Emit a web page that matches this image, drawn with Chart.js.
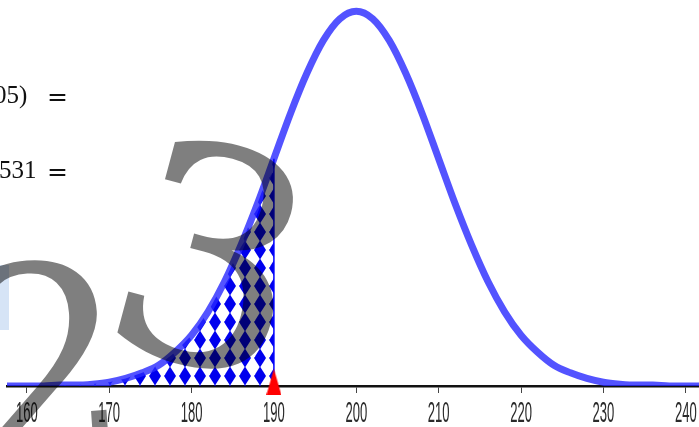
<!DOCTYPE html>
<html>
<head>
<meta charset="utf-8">
<script src="https://cdn.jsdelivr.net/npm/chart.js@4"></script>
<style>
  html, body { margin: 0; padding: 0; background: #fff; overflow: hidden; }
  #wrap { position: relative; width: 699px; height: 427px; overflow: hidden; }
  #chart { position: absolute; left: 0; top: 0; }
  .eq { position: absolute; font-family: "Liberation Serif", serif; font-size: 25px; line-height: 25px; color: #111; white-space: nowrap; }
  .eqs { position: absolute; font-family: "DejaVu Serif", serif; font-size: 25px; line-height: 25px; color: #111; }
  .mark { position: absolute; font-family: "DejaVu Serif", serif; line-height: 300px; color: rgba(0,0,0,0.5); }
  #patch { position: absolute; left: 0; top: 265px; width: 9px; height: 65px; background: #d6e4f6; }
</style>
</head>
<body>
<div id="wrap">
  <canvas id="chart" width="727" height="427"></canvas>
  <div class="eq" style="left:-6px; top:82px;">05)</div>
  <div class="eqs" style="left:47px; top:84px;">=</div>
  <div class="eq" style="left:-1px; top:157px;">531</div>
  <div class="eqs" style="left:47px; top:159px;">=</div>
  <div id="patch"></div>
  <div class="mark" style="left:116px; top:112px; font-size:300px; transform: rotate(15deg);">3</div>
  <div class="mark" style="left:-42px; top:217px; font-size:270px; transform: rotate(-4deg);">2</div>
</div>
<script>
// curve (x, density)
const curveX = [156, 158, 160, 162, 164, 166, 168, 170, 172, 174, 176, 178, 180, 182, 184, 186, 188, 190,
  192, 194, 196, 198, 200, 202, 204, 206, 208, 210, 212, 214, 216, 218, 220, 222, 224, 226, 228, 230,
  232, 234, 236, 238, 240, 242, 244, 246];
const curveY = [0.0000, 0.0000, 0.0000, 0.0000, 0.0001, 0.0001, 0.0002, 0.0004, 0.0008, 0.0014, 0.0022, 0.0036, 0.0054, 0.0079, 0.0111, 0.0150, 0.0194, 0.0242,
  0.0290, 0.0333, 0.0368, 0.0391, 0.0399, 0.0391, 0.0368, 0.0333, 0.0290, 0.0242, 0.0194, 0.0150, 0.0111, 0.0079, 0.0054, 0.0036, 0.0022, 0.0014, 0.0008, 0.0004,
  0.0002, 0.0001, 0.0001, 0.0000, 0.0000, 0.0000, 0.0000, 0.0000];
const cutoff = 190;
const cutoffHeight = 0.0242;
const tickLabels = [160, 170, 180, 190, 200, 210, 220, 230, 240];

const curve = curveX.map((x, i) => ({ x: x, y: curveY[i] }));
const shaded = curve.filter((p) => p.x <= cutoff);

const canvas = document.getElementById("chart");
const ctx = canvas.getContext("2d");

// harlequin pattern: blue diamonds in columns, white diamonds between
function diamondPattern() {
  const t = document.createElement("canvas");
  t.width = 15;
  t.height = 18;
  const c = t.getContext("2d");
  c.fillStyle = "#0000ee";
  const cx = 5, cy = 16;
  [-15, 0, 15].forEach((dx) => {
    [-18, 0, 18].forEach((dy) => {
      const x = cx + dx, y = cy + dy;
      c.beginPath();
      c.moveTo(x, y - 9.6);
      c.lineTo(x + 6, y);
      c.lineTo(x, y + 9.6);
      c.lineTo(x - 6, y);
      c.closePath();
      c.fill();
    });
  });
  return ctx.createPattern(t, "repeat");
}

// tall red marker at the cutoff
function redMarker() {
  const m = document.createElement("canvas");
  m.width = 15;
  m.height = 34;
  const c = m.getContext("2d");
  c.fillStyle = "#ff0000";
  c.beginPath();
  c.moveTo(7.5, 0);
  c.lineTo(15, 26);
  c.lineTo(0, 26);
  c.closePath();
  c.fill();
  return m;
}

// narrow tick labels
const narrowLabels = {
  id: "narrowLabels",
  afterDraw(chart) {
    const sx = chart.scales.x;
    const c = chart.ctx;
    c.save();
    c.fillStyle = "#2a2a2a";
    c.font = "29px 'Liberation Sans', sans-serif";
    c.textAlign = "center";
    c.textBaseline = "middle";
    tickLabels.forEach((v) => {
      c.save();
      c.translate(sx.getPixelForValue(v), 414);
      c.scale(0.45, 1);
      c.fillText(String(v), 0, 0);
      c.restore();
    });
    c.restore();
  },
};

new Chart(ctx, {
  type: "line",
  data: {
    datasets: [
      {
        data: shaded,
        borderWidth: 0,
        pointRadius: 0,
        fill: "origin",
        backgroundColor: diamondPattern(),
        order: 4,
      },
      {
        data: curve,
        borderColor: "rgba(40,40,255,0.8)",
        borderWidth: 7,
        pointRadius: 0,
        cubicInterpolationMode: "monotone",
        fill: false,
        order: 3,
      },
      {
        data: [{ x: cutoff, y: 0 }, { x: cutoff, y: cutoffHeight }],
        borderColor: "#0000ff",
        borderWidth: 1.5,
        pointRadius: 0,
        fill: false,
        order: 2,
      },
      {
        data: [{ x: cutoff, y: 0 }],
        showLine: false,
        pointStyle: redMarker(),
        pointRadius: 8,
        clip: false,
        order: 1,
      },
    ],
  },
  options: {
    responsive: false,
    devicePixelRatio: 1,
    animation: false,
    layout: { autoPadding: false, padding: { left: 7, right: 0, top: 0, bottom: 0 } },
    plugins: { legend: { display: false }, tooltip: { enabled: false } },
    scales: {
      x: {
        type: "linear",
        min: 157.6,
        max: 245,
        afterBuildTicks: (s) => { s.ticks = tickLabels.map((v) => ({ value: v })); },
        afterFit: (s) => { s.height = 41; },
        ticks: { display: false },
        grid: { drawOnChartArea: false, drawTicks: true, tickLength: 7, color: "#444", lineWidth: 1 },
        border: { color: "#111", width: 2.5 },
      },
      y: { display: false, min: 0, max: 0.0411 },
    },
  },
  plugins: [narrowLabels],
});
</script>
</body>
</html>
